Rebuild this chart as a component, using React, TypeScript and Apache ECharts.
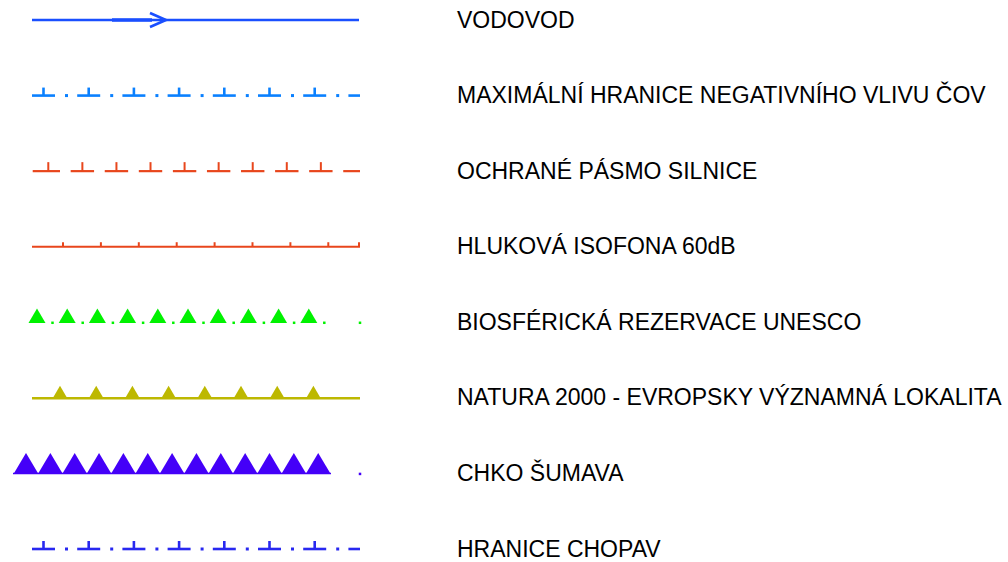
import React, { useEffect, useRef } from "react";
import * as echarts from "echarts";

// ---- data ----
const legendLabels: string[] = [
  "VODOVOD",
  "MAXIMÁLNÍ HRANICE NEGATIVNÍHO VLIVU ČOV",
  "OCHRANÉ PÁSMO SILNICE",
  "HLUKOVÁ ISOFONA 60dB",
  "BIOSFÉRICKÁ REZERVACE UNESCO",
  "NATURA 2000 - EVROPSKY VÝZNAMNÁ LOKALITA",
  "CHKO ŠUMAVA",
  "HRANICE CHOPAV",
];
const lineKinds: string[] = [
  "arrow",
  "tDashDot",
  "tDash",
  "tickLine",
  "triDots",
  "triLine",
  "bigTri",
  "tDashDot",
];
const lineColors: string[] = [
  "#1a4fff",
  "#0a80ff",
  "#e8461c",
  "#e8461c",
  "#00f200",
  "#bdb800",
  "#4400f8",
  "#2828f0",
];
const rowIndex: number[] = [0, 1, 2, 3, 4, 5, 6, 7];

const SAMPLE_START = 32;
const SAMPLE_END = 360;
const LABEL_X = 457;

function ln(x1: number, y1: number, x2: number, y2: number, color: string, w: number) {
  return {
    type: "line",
    shape: { x1, y1, x2, y2 },
    style: { stroke: color, lineWidth: w, lineCap: "butt" },
  };
}
function tri(cx: number, base: number, half: number, h: number, color: string) {
  return {
    type: "polygon",
    shape: { points: [[cx - half, base], [cx + half, base], [cx, base - h]] },
    style: { fill: color },
  };
}
function dot(cx: number, cy: number, s: number, color: string) {
  return { type: "rect", shape: { x: cx - s / 2, y: cy - s / 2, width: s, height: s }, style: { fill: color } };
}

function buildPattern(kind: string, x0: number, x1: number, y: number, color: string): any[] {
  const out: any[] = [];
  const X = (v: number) => x0 + (v - SAMPLE_START);
  if (kind === "arrow") {
    out.push(ln(x0, y, x1 - 1, y, color, 2.6));
    out.push(ln(X(112), y, X(152), y, color, 3.6));
    out.push({
      type: "polyline",
      shape: { points: [[X(150), y - 7], [X(166), y], [X(150), y + 7]] },
      style: { stroke: color, lineWidth: 2.6, fill: null },
    });
  } else if (kind === "tDashDot") {
    const p = 45.2;
    for (let i = 0; i < 7; i++) {
      const s = X(32 + p * i);
      out.push(ln(s, y, s + 23, y, color, 2.6));
      out.push(ln(s + 11.5, y, s + 11.5, y - 8, color, 2.6));
      out.push(dot(s + 34.5, y, 3, color));
    }
    out.push(ln(X(32 + p * 7), y, x1, y, color, 2.6));
  } else if (kind === "tDash") {
    const p = 34.07;
    for (let i = 0; i < 10; i++) {
      const c = X(48.3 + p * i);
      const a = i === 0 ? x0 + 0.7 : c - 11.7;
      const b = Math.min(c + 11.7, x1);
      out.push(ln(a, y, b, y, color, 2.2));
      if (c + 11.7 <= x1) out.push(ln(c, y, c, y - 9, color, 2));
    }
  } else if (kind === "tickLine") {
    out.push(ln(x0, y, x1, y, color, 2));
    for (let i = 0; i < 8; i++) {
      const c = X(63 + 37.9 * i);
      out.push(ln(c, y, c, y - 4.5, color, 2));
    }
    out.push(ln(x1 - 1, y, x1 - 1, y - 4.5, color, 2));
  } else if (kind === "triDots") {
    for (let i = 0; i < 10; i++) {
      const c = X(37 + 30.2 * i);
      out.push(tri(c, y + 0.8, 8.5, 14.5, color));
      out.push(dot(c + 15.5, y + 0.5, 2.5, color));
    }
    out.push(dot(x1, y + 0.5, 2.5, color));
  } else if (kind === "triLine") {
    out.push(ln(x0, y + 0.4, x1, y + 0.4, color, 2.6));
    for (let i = 0; i < 8; i++) {
      const c = X(60 + 36.2 * i);
      out.push(tri(c, y, 7, 12, color));
    }
  } else if (kind === "bigTri") {
    out.push(ln(X(13), y, X(331), y, color, 1.4));
    for (let i = 0; i < 13; i++) {
      const c = X(26 + 24.35 * i);
      out.push(tri(c, y + 0.5, 12.5, 21, color));
    }
    out.push(dot(x1, y + 0.5, 2.5, color));
  }
  return out;
}

export default function App() {
  const ref = useRef<HTMLDivElement>(null);
  useEffect(() => {
    document.body.style.margin = "0";
    const chart = echarts.init(ref.current!, undefined, { renderer: "svg" });
    chart.setOption({
      animation: false,
      backgroundColor: "#ffffff",
      grid: { left: 0, right: 0, top: 20, bottom: 13 },
      xAxis: { type: "value", min: 0, max: 1008, show: false },
      yAxis: { type: "value", min: 0, max: 7, inverse: true, show: false },
      series: [
        {
          type: "custom",
          clip: false,
          silent: true,
          data: rowIndex.map((r) => [r]),
          encode: { y: 0 },
          renderItem: (params: any, api: any) => {
            const row = api.value(0) as number;
            const [x0, y] = api.coord([SAMPLE_START, row]);
            const [x1] = api.coord([SAMPLE_END, row]);
            const [lx] = api.coord([LABEL_X, row]);
            const children = buildPattern(lineKinds[row], x0, x1, y, lineColors[row]);
            children.push({
              type: "text",
              style: {
                text: legendLabels[row],
                x: lx,
                y: y - 0.5,
                fill: "#000000",
                fontSize: 23,
                fontFamily: "Liberation Sans, Arial, sans-serif",
                align: "left",
                verticalAlign: "middle",
              },
            });
            return { type: "group", children };
          },
        },
      ],
    });
    return () => chart.dispose();
  }, []);
  return <div ref={ref} style={{ width: 1008, height: 562 }} />;
}
